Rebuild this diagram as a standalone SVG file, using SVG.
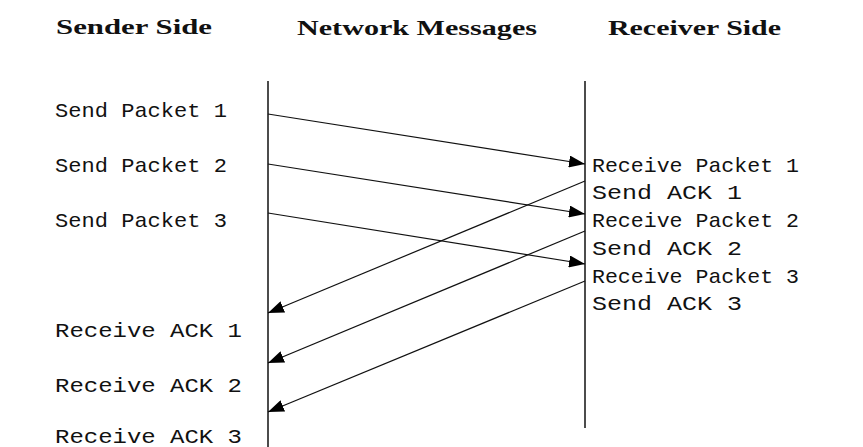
<svg xmlns="http://www.w3.org/2000/svg" width="863" height="447" viewBox="0 0 863 447">
<style>
.hdr{font-family:"Liberation Serif","Times New Roman",serif;font-weight:bold;font-size:21px;fill:#111}
.lbl{font-family:"Liberation Mono","Courier New",monospace;font-size:21px;fill:#111}
.life{stroke:#111;stroke-width:1.5;fill:none}
.msg{stroke:#111;stroke-width:1.2;fill:none;marker-end:url(#ah)}
</style>
<defs>
<marker id="ah" markerUnits="userSpaceOnUse" markerWidth="17" markerHeight="12" refX="16" refY="6" orient="auto">
<path d="M0,0 L16,6 L0,12 z" fill="#000"/>
</marker>
</defs>
<rect width="863" height="447" fill="#fff"/>
<g id="headers">
<text class="hdr" x="56" y="34" textLength="156" lengthAdjust="spacingAndGlyphs">Sender Side</text>
<text class="hdr" x="297" y="35" textLength="240" lengthAdjust="spacingAndGlyphs">Network Messages</text>
<text class="hdr" x="608" y="35" textLength="173" lengthAdjust="spacingAndGlyphs">Receiver Side</text>
</g>
<g id="sender">
<line class="life" x1="268" y1="81" x2="268" y2="447"/>
<text class="lbl" x="55" y="117" textLength="172" lengthAdjust="spacingAndGlyphs">Send Packet 1</text>
<text class="lbl" x="55" y="172" textLength="172" lengthAdjust="spacingAndGlyphs">Send Packet 2</text>
<text class="lbl" x="55" y="227" textLength="172" lengthAdjust="spacingAndGlyphs">Send Packet 3</text>
<text class="lbl" x="55" y="337" textLength="187" lengthAdjust="spacingAndGlyphs">Receive ACK 1</text>
<text class="lbl" x="55" y="392" textLength="187" lengthAdjust="spacingAndGlyphs">Receive ACK 2</text>
<text class="lbl" x="55" y="443" textLength="187" lengthAdjust="spacingAndGlyphs">Receive ACK 3</text>
</g>
<g id="receiver">
<line class="life" x1="585" y1="81" x2="585" y2="428"/>
<text class="lbl" x="592" y="172" textLength="207" lengthAdjust="spacingAndGlyphs">Receive Packet 1</text>
<text class="lbl" x="592" y="199" textLength="150" lengthAdjust="spacingAndGlyphs">Send ACK 1</text>
<text class="lbl" x="592" y="227" textLength="207" lengthAdjust="spacingAndGlyphs">Receive Packet 2</text>
<text class="lbl" x="592" y="255" textLength="150" lengthAdjust="spacingAndGlyphs">Send ACK 2</text>
<text class="lbl" x="592" y="283" textLength="207" lengthAdjust="spacingAndGlyphs">Receive Packet 3</text>
<text class="lbl" x="592" y="310" textLength="150" lengthAdjust="spacingAndGlyphs">Send ACK 3</text>
</g>
<g id="connectors">
<line class="msg" x1="268" y1="114" x2="585" y2="164"/>
<line class="msg" x1="268" y1="164" x2="585" y2="214"/>
<line class="msg" x1="268" y1="213" x2="585" y2="264"/>
<line class="msg" x1="585" y1="181" x2="268" y2="313"/>
<line class="msg" x1="585" y1="231" x2="268" y2="363"/>
<line class="msg" x1="585" y1="281" x2="268" y2="412"/>
</g>
</svg>
